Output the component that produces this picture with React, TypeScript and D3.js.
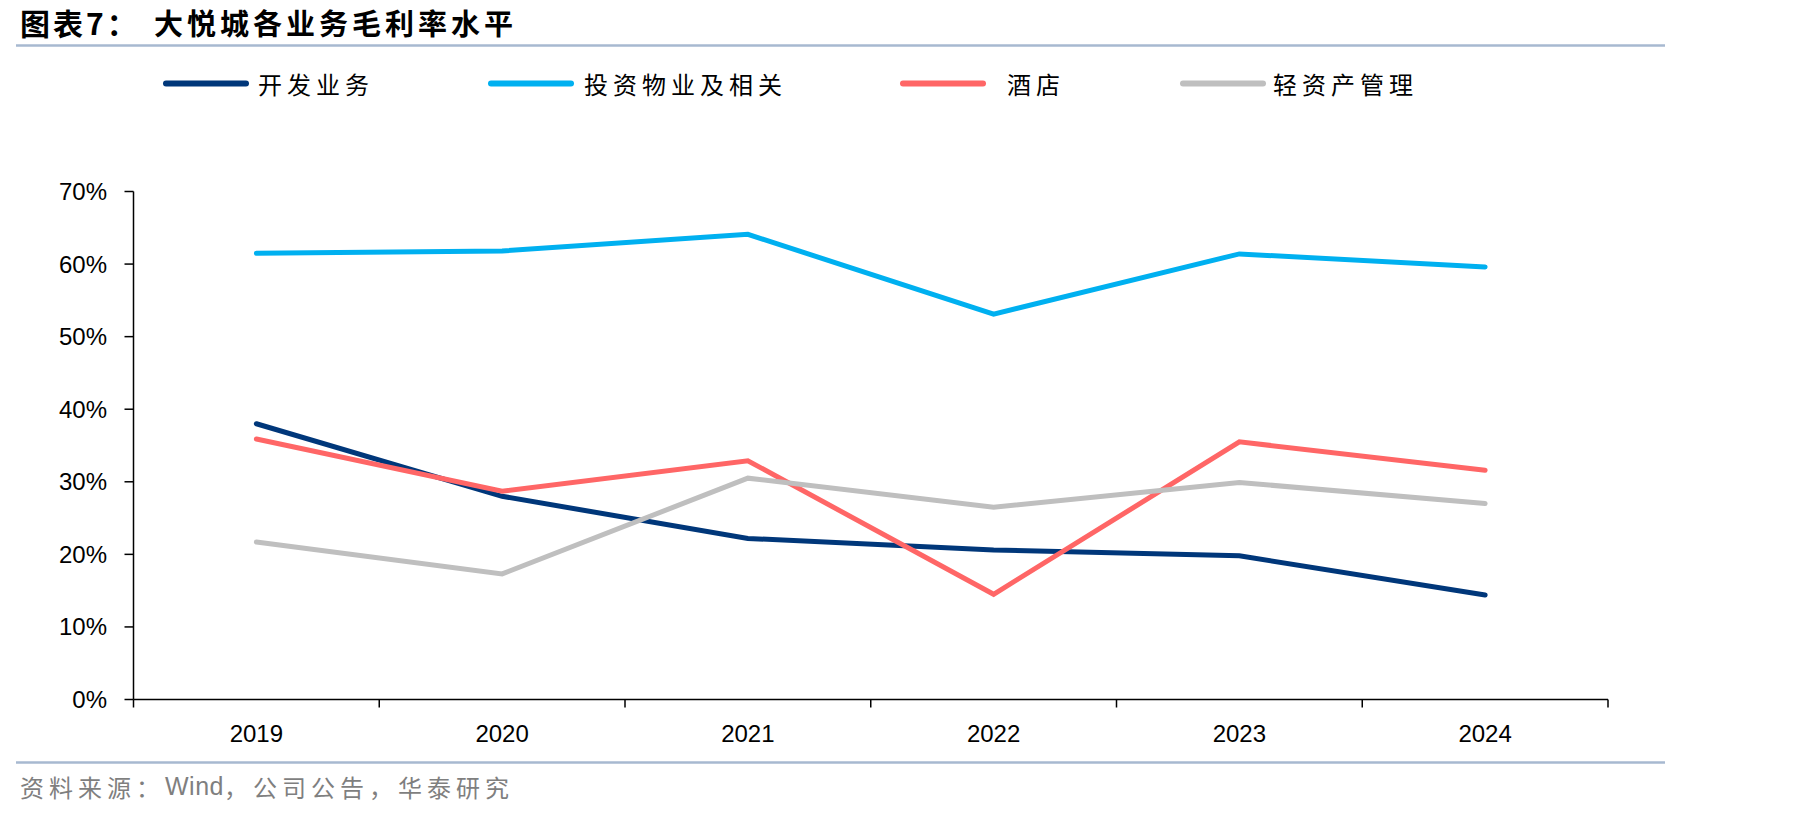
import React from "react";
import * as d3 from "d3";

const years = ["2019", "2020", "2021", "2022", "2023", "2024"];
const devValues = [38.0, 28.0, 22.2, 20.6, 19.8, 14.4];
const investValues = [61.5, 61.8, 64.1, 53.1, 61.4, 59.6];
const hotelValues = [35.9, 28.7, 32.9, 14.5, 35.5, 31.6];
const lightValues = [21.7, 17.3, 30.5, 26.5, 29.9, 27.0];
const yTicks = [0, 10, 20, 30, 40, 50, 60, 70];

const seriesNames = ["开发业务", "投资物业及相关", "酒店", "轻资产管理"];
const seriesColors = ["#00377a", "#00b0f0", "#ff6666", "#bfbfbf"];
const seriesData = [devValues, investValues, hotelValues, lightValues];

const W = 1803;
const H = 809;
const left = 133.5;
const right = 1608;
const top = 191.5;
const bottom = 699.5;

export default function App() {
  const x = d3.scaleBand<string>().domain(years).range([left, right]);
  const y = d3.scaleLinear().domain([0, 70]).range([bottom, top]);
  const line = d3
    .line<number>()
    .x((_, i) => (x(years[i]) as number) + x.bandwidth() / 2)
    .y((d) => y(d));
  const boundaries = years.map((yr) => x(yr) as number).concat([right]);
  const legendX = [166, 491, 903, 1183];
  const legendTextX = [258, 584, 1007, 1273];
  const legendLen = 80;

  return (
    <svg width={W} height={H} style={{ display: "block", marginLeft: -8, marginTop: -8 }} viewBox={`0 0 ${W} ${H}`}>
      <rect x={0} y={0} width={W} height={H} fill="#fff" />
      <text x={20} y={35} fontFamily="'Noto Sans CJK SC'" fontWeight={700} fontSize={30} fill="#000" letterSpacing={3}>
        图表7：
      </text>
      <text x={154} y={35} fontFamily="'Noto Sans CJK SC'" fontWeight={700} fontSize={29} fill="#000" letterSpacing={4}>
        大悦城各业务毛利率水平
      </text>
      <line x1={16} x2={1665} y1={45.5} y2={45.5} stroke="#a7b9d0" strokeWidth={2.5} />
      {seriesNames.map((n, i) => (
        <g key={n}>
          <line x1={legendX[i]} x2={legendX[i] + legendLen} y1={83.5} y2={83.5} stroke={seriesColors[i]} strokeWidth={6} strokeLinecap="round" />
          <text x={legendTextX[i]} y={83.5} dominantBaseline="central" fontFamily="'Noto Sans CJK SC'" fontSize={24} letterSpacing={5} fill="#000">
            {n}
          </text>
        </g>
      ))}
      {/* y axis */}
      <line x1={left} x2={left} y1={top} y2={bottom} stroke="#000" strokeWidth={1.5} />
      {yTicks.map((t) => (
        <g key={t}>
          <line x1={left - 9} x2={left} y1={y(t)} y2={y(t)} stroke="#000" strokeWidth={1.5} />
          <text x={107} y={y(t)} textAnchor="end" dominantBaseline="central" fontFamily="'Liberation Sans', Arial" fontSize={24} fill="#000">
            {t}%
          </text>
        </g>
      ))}
      {/* x axis */}
      <line x1={left} x2={right} y1={bottom} y2={bottom} stroke="#000" strokeWidth={1.5} />
      {boundaries.map((b, i) => (
        <line key={i} x1={b} x2={b} y1={bottom} y2={bottom + 8} stroke="#000" strokeWidth={1.5} />
      ))}
      {years.map((yr) => (
        <text key={yr} x={(x(yr) as number) + x.bandwidth() / 2} y={733} textAnchor="middle" dominantBaseline="central" fontFamily="'Liberation Sans', Arial" fontSize={24} fill="#000">
          {yr}
        </text>
      ))}
      {seriesData.map((d, i) => (
        <path key={i} d={line(d) as string} fill="none" stroke={seriesColors[i]} strokeWidth={5} strokeLinejoin="miter" strokeLinecap="round" />
      ))}
      <line x1={16} x2={1665} y1={762.5} y2={762.5} stroke="#a7b9d0" strokeWidth={2.5} />
      <text x={20} y={786} dominantBaseline="central" fontFamily="'Noto Sans CJK SC'" fontSize={24} fill="#7f7f7f">
        <tspan letterSpacing={5}>资料来源：</tspan>
        <tspan fontFamily="'Liberation Sans', Arial" fontSize={25} letterSpacing={0.5}>Wind</tspan>
        <tspan letterSpacing={5}>，公司公告，华泰研究</tspan>
      </text>
    </svg>
  );
}
